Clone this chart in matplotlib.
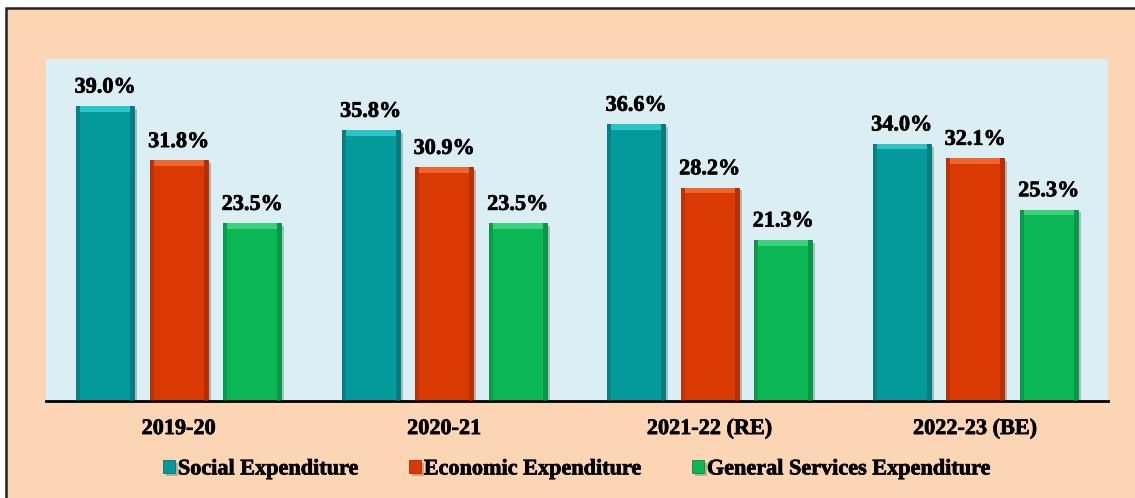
import numpy as np
import matplotlib
matplotlib.use("Agg")
import matplotlib.pyplot as plt
import matplotlib.patheffects as pe
from matplotlib.patches import Rectangle

years = ["2019-20", "2020-21", "2021-22 (RE)", "2022-23 (BE)"]
series = ["Social Expenditure", "Economic Expenditure", "General Services Expenditure"]
social = [39.0, 35.8, 36.6, 34.0]
economic = [31.8, 30.9, 28.2, 32.1]
general = [23.5, 23.5, 21.3, 25.3]

colors = ["#049a9c", "#d93a03", "#0bb655"]
tops = ["#2cc4c6", "#ee6530", "#3ad27b"]
sides = ["#037274", "#a82c02", "#078a40"]

plt.rcParams["font.family"] = ["Liberation Serif", "DejaVu Serif"]
plt.rcParams["font.weight"] = "bold"

# slight stroke so the bold serif reads heavier
heavy = [pe.withStroke(linewidth=0.5, foreground="black")]

fig = plt.figure(figsize=(11.35, 4.98), dpi=100)
fig.patch.set_facecolor("white")

# peach frame behind everything
frame = Rectangle((6 / 1135, -0.05), 1.1, 1 - 8 / 498 + 0.05,
                  transform=fig.transFigure, facecolor="#fcd5b5",
                  edgecolor="#222222", linewidth=1.8, zorder=-10)
fig.patches.append(frame)

ax = fig.add_axes([46 / 1135, 97 / 498, 1062 / 1135, 342 / 498])
ax.set_facecolor("#daeef3")

x = np.arange(len(years))
w = 0.22
off = 0.277
cap = 0.75
side = 0.016

for i, vals in enumerate([social, economic, general]):
    pos = x + (i - 1) * off
    vals = np.array(vals)
    bars = ax.bar(pos, vals, w, color=colors[i], label=series[i],
                  edgecolor=sides[i], linewidth=0.6, zorder=2)
    for b in bars:
        b.set_path_effects([pe.SimplePatchShadow(offset=(2, -2), alpha=0.25),
                            pe.Normal()])
    # bevel: darker sides and a light top cap
    ax.bar(pos - w / 2 + side / 2, vals, side, color=sides[i], alpha=0.5,
           linewidth=0, zorder=3)
    ax.bar(pos + w / 2 - side / 2, vals, side, color=sides[i], alpha=0.7,
           linewidth=0, zorder=3)
    ax.bar(pos, np.full(len(vals), cap), w - 2 * side, bottom=vals - cap,
           color=tops[i], linewidth=0, zorder=4)
    for p, v in zip(pos, vals):
        ax.annotate(f"{v:.1f}%", (p, v), xytext=(0, 6),
                    textcoords="offset points", ha="center", va="bottom",
                    fontsize=16, fontweight="bold", path_effects=heavy)

ax.set_xlim(-0.5, len(years) - 0.5)
ax.set_ylim(0, 45.2)
ax.set_yticks([])
ax.set_xticks(x)
ax.set_xticklabels(years, fontsize=16, fontweight="bold", path_effects=heavy)
ax.tick_params(axis="x", length=0, pad=13)
for s in ["top", "left", "right"]:
    ax.spines[s].set_visible(False)
ax.spines["bottom"].set_linewidth(2)
ax.spines["bottom"].set_color("black")

leg = ax.legend(loc="center", bbox_to_anchor=(0.5, -0.2), ncol=3, frameon=False,
                prop={"size": 16, "weight": "bold"}, handlelength=0.55,
                handleheight=0.55, handletextpad=0.12, columnspacing=2.25,
                borderaxespad=0)
for t in leg.get_texts():
    t.set_path_effects(heavy)

fig.savefig("out.png", dpi=100)
